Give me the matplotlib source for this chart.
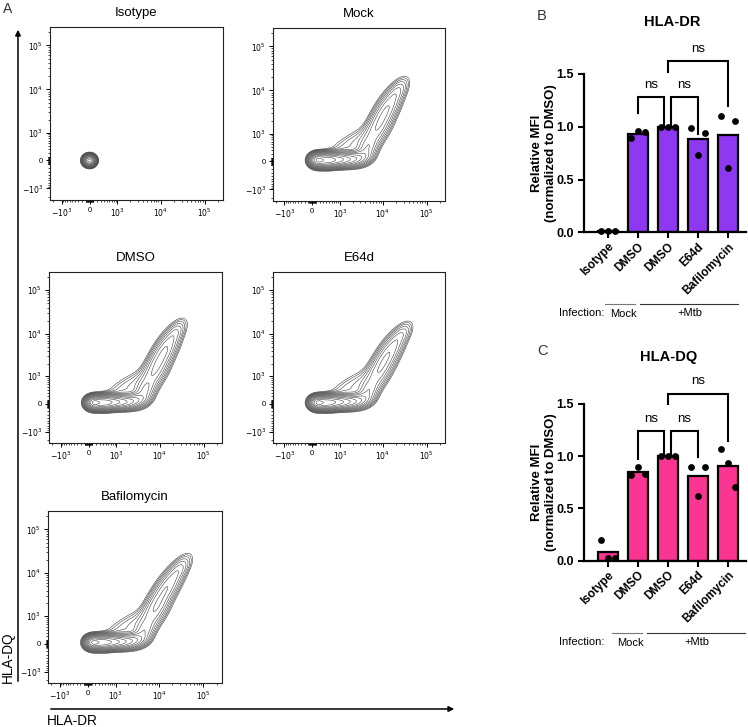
import numpy as np
import matplotlib
matplotlib.use("Agg")
import matplotlib.pyplot as plt
from matplotlib.ticker import FixedLocator, FixedFormatter, NullFormatter
from matplotlib.lines import Line2D
from matplotlib.patches import FancyArrowPatch

plt.rcParams['font.family'] = ['Liberation Sans', 'DejaVu Sans']

# ---------------- data ----------------
flow_titles = ["Isotype", "Mock", "DMSO", "E64d", "Bafilomycin"]
flow_tick_values = [-1e3, 0, 1e3, 1e4, 1e5]
flow_tick_labels = ["$-10^3$", "0", "$10^3$", "$10^4$", "$10^5$"]

# density components in display (biexponential decade) units:
# (centre x, centre y, sd along major axis, sd along minor axis, angle deg, peak weight)
isotype_comp = [(0.0, 0.0, 0.065, 0.06, 0, 1.0)]
mock_comp = [(0.12, 0.03, 0.09, 0.075, 0, 1.0),
             (0.32, 0.03, 0.13, 0.080, 0, 0.80),
             (0.55, 0.04, 0.15, 0.080, 0, 0.50),
             (0.80, 0.05, 0.16, 0.085, 0, 0.28),
             (1.05, 0.08, 0.16, 0.090, 10, 0.14),
             (1.25, 0.28, 0.18, 0.120, 60, 0.07),
             (0.95, 0.42, 0.45, 0.150, 30, 0.022),
             (1.48, 0.75, 0.30, 0.140, 63, 0.07),
             (1.72, 1.22, 0.30, 0.130, 60, 0.08),
             (1.97, 1.62, 0.20, 0.100, 55, 0.03)]
dmso_comp = [(0.12, 0.03, 0.09, 0.075, 0, 1.0),
             (0.32, 0.03, 0.13, 0.080, 0, 0.80),
             (0.55, 0.04, 0.15, 0.080, 0, 0.50),
             (0.80, 0.05, 0.16, 0.085, 0, 0.28),
             (1.05, 0.08, 0.16, 0.090, 10, 0.15),
             (1.27, 0.28, 0.18, 0.120, 60, 0.08),
             (0.95, 0.42, 0.45, 0.150, 30, 0.022),
             (1.50, 0.75, 0.30, 0.140, 63, 0.075),
             (1.74, 1.24, 0.30, 0.130, 60, 0.085),
             (1.99, 1.66, 0.20, 0.100, 55, 0.03)]
e64d_comp = [(0.12, 0.03, 0.09, 0.075, 0, 1.0),
             (0.32, 0.03, 0.13, 0.080, 0, 0.80),
             (0.55, 0.04, 0.15, 0.080, 0, 0.50),
             (0.80, 0.05, 0.16, 0.085, 0, 0.28),
             (1.05, 0.08, 0.16, 0.090, 10, 0.14),
             (1.27, 0.27, 0.18, 0.120, 58, 0.07),
             (0.95, 0.42, 0.45, 0.150, 30, 0.022),
             (1.52, 0.74, 0.30, 0.140, 62, 0.07),
             (1.77, 1.20, 0.30, 0.130, 58, 0.075),
             (2.04, 1.60, 0.20, 0.100, 52, 0.03)]
baf_comp = [(0.12, 0.03, 0.09, 0.075, 0, 1.0),
            (0.32, 0.03, 0.13, 0.080, 0, 0.80),
            (0.55, 0.04, 0.15, 0.080, 0, 0.50),
            (0.80, 0.05, 0.16, 0.085, 0, 0.28),
            (1.05, 0.08, 0.16, 0.090, 10, 0.14),
            (1.27, 0.28, 0.18, 0.120, 58, 0.07),
            (0.95, 0.42, 0.45, 0.150, 30, 0.022),
            (1.52, 0.78, 0.30, 0.140, 62, 0.075),
            (1.80, 1.30, 0.32, 0.130, 57, 0.08),
            (2.08, 1.72, 0.22, 0.100, 53, 0.035)]
flow_components = [isotype_comp, mock_comp, dmso_comp, e64d_comp, baf_comp]

bar_categories = ["Isotype", "DMSO", "DMSO", "E64d", "Bafilomycin"]
hla_dr_values = [[0.01, 0.01, 0.01],
                 [0.89, 0.96, 0.95],
                 [1.00, 1.00, 1.00],
                 [0.99, 0.73, 0.94],
                 [1.10, 0.61, 1.05]]
hla_dq_values = [[0.20, 0.03, 0.03],
                 [0.82, 0.90, 0.83],
                 [1.00, 1.00, 1.00],
                 [0.90, 0.62, 0.90],
                 [1.07, 0.94, 0.71]]
dr_brackets = [(1.0, 1.85, 1.28, 1.13, 1.02),
               (2.1, 3.0, 1.28, 1.02, 0.93),
               (2.0, 4.0, 1.62, 1.52, 1.20)]
dq_brackets = [(1.0, 1.85, 1.24, 0.97, 1.01),
               (2.1, 3.0, 1.24, 1.01, 0.99),
               (2.0, 4.0, 1.60, 1.50, 1.15)]
sig_label = "ns"

# ---------------- figure ----------------
W, H = 748, 727
fig = plt.figure(figsize=(W / 100, H / 100), dpi=100)


def fx(px):
    return px / W


def fy(py):
    return 1 - py / H


def add_ax_px(left, top, right, bottom):
    return fig.add_axes([fx(left), fy(bottom), (right - left) / W, (bottom - top) / H])


A0 = 490.0
LN10 = np.log(10)
u_lo, u_hi = -0.897, 3.03
u = np.linspace(u_lo, u_hi, 450)
UX, UY = np.meshgrid(u, u)
VX = A0 * np.sinh(UX * LN10)
VY = A0 * np.sinh(UY * LN10)


def density(comps):
    z = np.zeros_like(UX)
    for cx, cy, s1, s2, ang, w in comps:
        t = np.deg2rad(ang)
        dx, dy = UX - cx, UY - cy
        a = dx * np.cos(t) + dy * np.sin(t)
        b = -dx * np.sin(t) + dy * np.cos(t)
        z += w * np.exp(-0.5 * (a ** 2 / s1 ** 2 + b ** 2 / s2 ** 2))
    return z


minor_vals = []
for k in range(1, 10):
    minor_vals += [k * 10, -k * 10, k * 100, -k * 100]
for dec in [1e3, 1e4, 1e5]:
    for k in range(2, 10):
        if k * dec < 262144:
            minor_vals.append(k * dec)
minor_vals.append(-1600)

flow_boxes = [(50, 27, 223, 200), (273, 28, 445, 201),
              (49, 272, 222, 443), (273, 272, 445, 443),
              (48, 511, 222, 683)]

for title, comps, box in zip(flow_titles, flow_components, flow_boxes):
    ax = add_ax_px(*box)
    ax.set_xscale('asinh', linear_width=A0)
    ax.set_yscale('asinh', linear_width=A0)
    ax.set_xlim(-1900, 262144)
    ax.set_ylim(-1900, 262144)
    z = density(comps)
    levels = z.max() * np.geomspace(0.006, 0.85, 15)
    ax.contour(VX, VY, z, levels=levels, colors='#404040', linewidths=0.4)
    for axis in (ax.xaxis, ax.yaxis):
        axis.set_major_locator(FixedLocator(flow_tick_values))
        axis.set_major_formatter(FixedFormatter(flow_tick_labels))
        axis.set_minor_locator(FixedLocator(minor_vals))
        axis.set_minor_formatter(NullFormatter())
    ax.tick_params(which='major', length=3, width=0.7, labelsize=5.5, pad=2,
                   direction='out', colors='black')
    ax.tick_params(which='minor', length=1.5, width=0.5, direction='out')
    for sp in ax.spines.values():
        sp.set_linewidth(0.8)
        sp.set_color('#222222')
    cx = (box[0] + box[2]) / 2
    fig.text(fx(cx), fy(box[1] - 14), title, ha='center', va='center', fontsize=9.5)

# big axis arrows
fig.add_artist(FancyArrowPatch((fx(18), fy(684)), (fx(18), fy(27)), transform=fig.transFigure,
                               arrowstyle='-|>', mutation_scale=8, lw=1.1, color='black'))
fig.add_artist(FancyArrowPatch((fx(48), fy(709)), (fx(457), fy(709)), transform=fig.transFigure,
                               arrowstyle='-|>', mutation_scale=8, lw=1.1, color='black'))
fig.text(fx(8), fy(657), "HLA-DQ", rotation=90, ha='center', va='center', fontsize=9.8)
fig.text(fx(47), fy(721), "HLA-DR", ha='left', va='center', fontsize=9.8)
fig.text(fx(8), fy(9), "A", ha='center', va='center', fontsize=10, color='#333333')


# ---------------- bar panels ----------------
def bar_panel(top_px, bottom_px, values, color, title, letter, letter_xy, title_xy,
              brackets, inf_y, inf_shift):
    ax = add_ax_px(584, top_px, 746, bottom_px)
    x = np.arange(len(bar_categories))
    means = [np.mean(v) for v in values]
    ax.bar(x, means, width=0.66, color=color, edgecolor='black', linewidth=1.6, zorder=2)
    offs = np.array([-0.22, 0.0, 0.22])
    for i, v in enumerate(values):
        ax.scatter(x[i] + offs, v, s=24, color='black', zorder=3, clip_on=False, linewidths=0)
    ax.set_xlim(-0.8, 4.6)
    ax.set_ylim(0, 1.5)
    ax.set_yticks([0, 0.5, 1.0, 1.5])
    ax.set_yticklabels(["0.0", "0.5", "1.0", "1.5"], fontweight='bold', fontsize=9)
    ax.set_xticks(x)
    ax.set_xticklabels(bar_categories, rotation=45, ha='right', rotation_mode='anchor',
                       fontweight='bold', fontsize=8.5)
    ax.tick_params(axis='both', length=4, width=1.5, direction='out')
    ax.tick_params(axis='x', pad=2)
    for s in ['top', 'right']:
        ax.spines[s].set_visible(False)
    for s in ['left', 'bottom']:
        ax.spines[s].set_linewidth(1.6)
    ax.set_ylabel("Relative MFI\n(normalized to DMSO)", fontweight='bold', fontsize=9.5)
    ax.yaxis.set_label_coords(-0.165, 0.5)
    for xl, xr, yt, yl, yr in brackets:
        ax.plot([xl, xl, xr, xr], [yl, yt, yt, yr], color='black', lw=1.5,
                clip_on=False, solid_joinstyle='miter')
        ax.text((xl + xr) / 2, yt + 0.06, sig_label, ha='center', va='bottom', fontsize=9.5)
    fig.text(fx(letter_xy[0]), fy(letter_xy[1]), letter, ha='center', va='center',
             fontsize=10.5, color='#333333')
    fig.text(fx(title_xy[0]), fy(title_xy[1]), title, ha='center', va='center',
             fontsize=10.5, fontweight='bold')
    # infection annotation
    fig.text(fx(582), fy(inf_y + 9), "Infection:", ha='center', va='center', fontsize=8)
    fig.text(fx(623 + inf_shift), fy(inf_y + 10), "Mock", ha='center', va='center', fontsize=8)
    fig.text(fx(690 + inf_shift), fy(inf_y + 9), "+Mtb", ha='center', va='center', fontsize=8)
    fig.add_artist(Line2D([fx(605 + inf_shift), fx(635 + inf_shift)], [fy(inf_y), fy(inf_y)],
                          transform=fig.transFigure, color='#777777', lw=0.8))
    fig.add_artist(Line2D([fx(640 + inf_shift), fx(738 + inf_shift)], [fy(inf_y), fy(inf_y)],
                          transform=fig.transFigure, color='#333333', lw=0.8))
    return ax


bar_panel(74, 232.3, hla_dr_values, '#8e38f2', "HLA-DR", "B", (542, 16), (672, 22),
          dr_brackets, 304, 0)
bar_panel(404, 560.7, hla_dq_values, '#fa3592', "HLA-DQ", "C", (543, 351), (669, 357),
          dq_brackets, 633, 7)

fig.savefig("out.png", dpi=100)
